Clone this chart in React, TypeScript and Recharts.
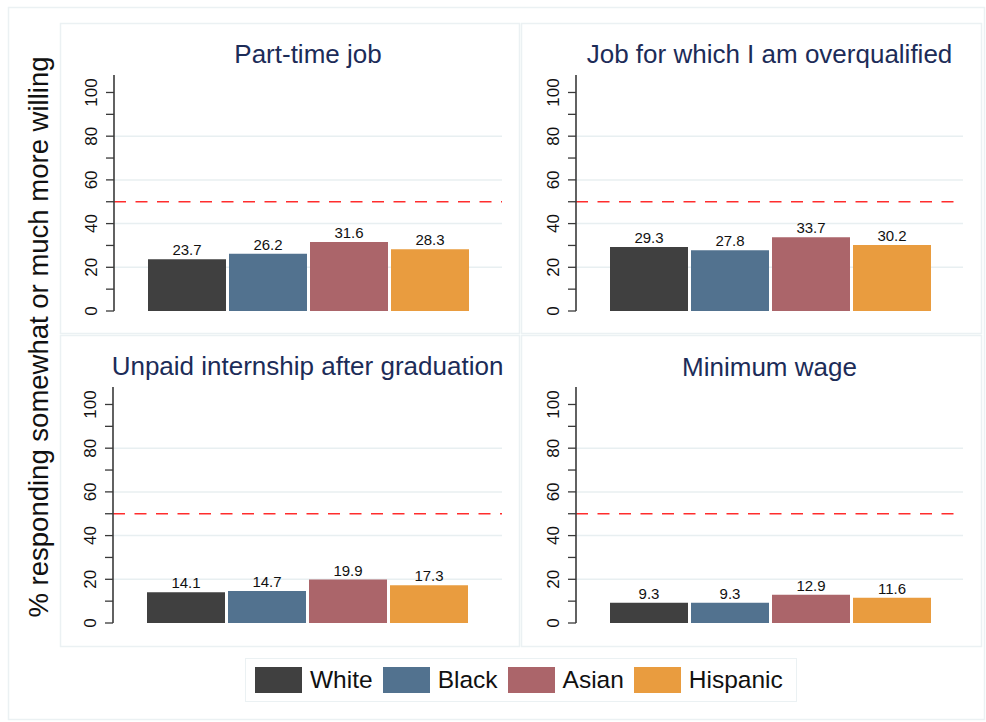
import React from "react";
import {
  BarChart,
  Bar,
  XAxis,
  YAxis,
  CartesianGrid,
  ReferenceLine,
  LabelList,
} from "recharts";

// ---- data ----
const categories = ["White", "Black", "Asian", "Hispanic"];
const seriesColors = ["#404040", "#52728f", "#ab656a", "#e99c3f"];
const panelTitles = [
  "Part-time job",
  "Job for which I am overqualified",
  "Unpaid internship after graduation",
  "Minimum wage",
];
const partTimeValues = [23.7, 26.2, 31.6, 28.3];
const overqualifiedValues = [29.3, 27.8, 33.7, 30.2];
const unpaidValues = [14.1, 14.7, 19.9, 17.3];
const minWageValues = [9.3, 9.3, 12.9, 11.6];
const panelValues = [partTimeValues, overqualifiedValues, unpaidValues, minWageValues];
const yTicks = [0, 10, 20, 30, 40, 50, 60, 70, 80, 90, 100];
const yLabelTicks = [0, 20, 40, 60, 80, 100];
const gridTicks = [20, 40, 60, 80];
const referenceValue = 50;
const yDomain = [0, 108];
const yTitle = "% responding somewhat or much more willing";

// ---- layout ----
const FONT = "'Liberation Sans', Arial, Helvetica, sans-serif";
const TITLE_COLOR = "#1c2c58";
const BORDER = "#ebf1f3";

type Layout = {
  left: number;
  top: number;
  width: number;
  height: number;
  plotLeft: number;
  plotRight: number;
  plotTop: number;
  zeroY: number;
  titleY: number;
};

const layouts: Layout[] = [
  { left: 60, top: 23, width: 460, height: 311, plotLeft: 114, plotRight: 502, plotTop: 75, zeroY: 311, titleY: 63 },
  { left: 521, top: 23, width: 461, height: 311, plotLeft: 576, plotRight: 963, plotTop: 75, zeroY: 311, titleY: 63 },
  { left: 60, top: 335, width: 460, height: 312, plotLeft: 113, plotRight: 502, plotTop: 387, zeroY: 623, titleY: 375 },
  { left: 521, top: 335, width: 461, height: 312, plotLeft: 576, plotRight: 963, plotTop: 387, zeroY: 623, titleY: 376 },
];

const YTick = (props: any) => {
  const { x, y, payload } = props;
  if (!yLabelTicks.includes(payload.value)) return <g />;
  return (
    <text
      x={x}
      y={y}
      transform={`rotate(-90 ${x} ${y})`}
      textAnchor="middle"
      fontSize={17}
      fontFamily={FONT}
      fill="#111"
    >
      {payload.value}
    </text>
  );
};

function Panel({ idx }: { idx: number }) {
  const L = layouts[idx];
  const row: any = { name: panelTitles[idx] };
  categories.forEach((c, i) => {
    row[c] = panelValues[idx][i];
  });
  const data = [row];
  return (
    <div style={{ position: "absolute", left: L.left, top: L.top }}>
      <BarChart
        width={L.width}
        height={L.height}
        data={data}
        margin={{
          top: L.plotTop - L.top,
          right: L.left + L.width - L.plotRight,
          bottom: L.top + L.height - L.zeroY,
          left: 0,
        }}
        barCategoryGap={34}
        barGap={3}
      >
        <CartesianGrid
          vertical={false}
          horizontalValues={gridTicks}
          stroke="#e8eff1"
          strokeWidth={1.5}
        />
        <XAxis
          dataKey="name"
          tick={false}
          tickLine={false}
          height={0}
          axisLine={{ stroke: "#3a3a3a", strokeWidth: 1.6 }}
        />
        <YAxis
          type="number"
          domain={yDomain}
          ticks={yTicks}
          interval={0}
          width={L.plotLeft - L.left}
          tickSize={8}
          tickMargin={9}
          tick={<YTick />}
          axisLine={{ stroke: "#3a3a3a", strokeWidth: 1.6 }}
          tickLine={{ stroke: "#3a3a3a", strokeWidth: 1.3 }}
        />
        <ReferenceLine
          y={referenceValue}
          stroke="#ff2d2d"
          strokeWidth={1.7}
          strokeDasharray="12 9.5"
        />
        {categories.map((c, i) => (
          <Bar key={c} dataKey={c} fill={seriesColors[i]} isAnimationActive={false}>
            <LabelList
              dataKey={c}
              position="top"
              offset={4}
              fontSize={15}
              fontFamily={FONT}
              fill="#111"
            />
          </Bar>
        ))}
      </BarChart>
    </div>
  );
}

export default function App() {
  return (
    <div
      style={{
        position: "absolute",
        left: 0,
        top: 0,
        width: 986,
        height: 722,
        background: "#fff",
        fontFamily: FONT,
        overflow: "hidden",
      }}
    >
      <svg
        width={986}
        height={722}
        style={{ position: "absolute", left: 0, top: 0 }}
      >
        <rect x={8.5} y={7.5} width={976} height={712} fill="none" stroke={BORDER} strokeWidth={1.5} />
        {layouts.map((L, i) => (
          <rect
            key={i}
            x={L.left + 0.5}
            y={L.top + 0.5}
            width={L.width - 1}
            height={L.height - 1}
            fill="none"
            stroke={BORDER}
            strokeWidth={1.5}
          />
        ))}
        {layouts.map((L, i) => (
          <text
            key={"t" + i}
            x={(L.plotLeft + L.plotRight) / 2}
            y={L.titleY}
            textAnchor="middle"
            fontSize={26}
            fontFamily={FONT}
            fill={TITLE_COLOR}
          >
            {panelTitles[i]}
          </text>
        ))}
        <text
          x={48}
          y={337}
          transform="rotate(-90 48 337)"
          textAnchor="middle"
          fontSize={27.5}
          fontFamily={FONT}
          fill="#111"
        >
          {yTitle}
        </text>
      </svg>
      {layouts.map((_, i) => (
        <Panel key={i} idx={i} />
      ))}
      <div
        style={{
          position: "absolute",
          left: 245,
          top: 658,
          width: 552,
          height: 44,
          boxSizing: "border-box",
          border: `1.5px solid ${BORDER}`,
          display: "flex",
          alignItems: "center",
          paddingLeft: 9,
        }}
      >
        {categories.map((c, i) => (
          <div key={c} style={{ display: "flex", alignItems: "center", marginRight: 10 }}>
            <div style={{ width: 47, height: 26, background: seriesColors[i], marginRight: 8 }} />
            <span style={{ fontSize: 24.5, color: "#111", lineHeight: "26px" }}>{c}</span>
          </div>
        ))}
      </div>
    </div>
  );
}
